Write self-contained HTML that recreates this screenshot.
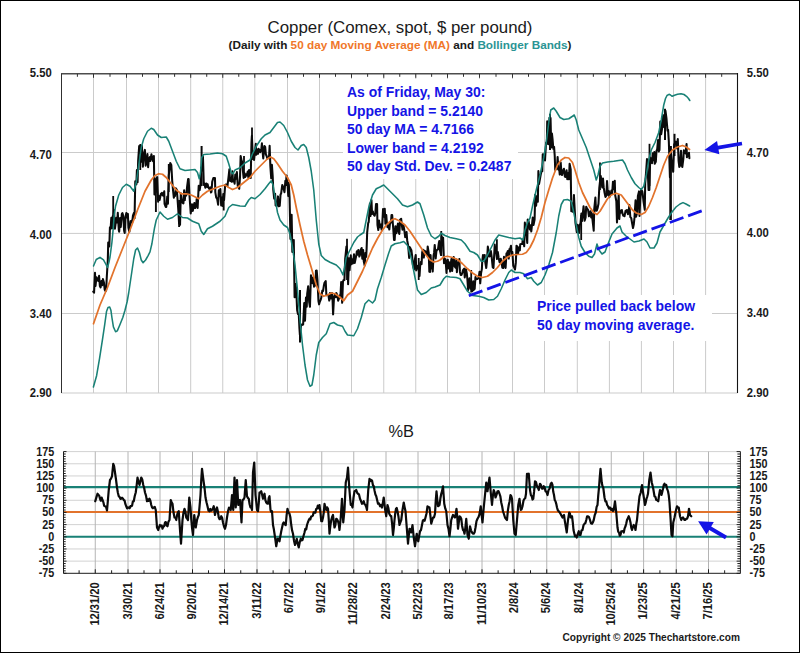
<!DOCTYPE html>
<html><head><meta charset="utf-8"><title>Copper</title>
<style>html,body{margin:0;padding:0;background:#fff}body{width:800px;height:653px;overflow:hidden}</style></head>
<body>
<svg width="800" height="653" viewBox="0 0 800 653" style="display:block;font-family:'Liberation Sans',sans-serif">
<rect x="0" y="0" width="800" height="653" fill="#fff"/>
<path d="M93.50 73.8V393.0 M126.50 73.8V393.0 M158.50 73.8V393.0 M190.70 73.8V393.0 M222.75 73.8V393.0 M254.80 73.8V393.0 M287.50 73.8V393.0 M319.50 73.8V393.0 M351.50 73.8V393.0 M383.75 73.8V393.0 M415.75 73.8V393.0 M447.50 73.8V393.0 M479.50 73.8V393.0 M512.50 73.8V393.0 M544.50 73.8V393.0 M577.30 73.8V393.0 M609.40 73.8V393.0 M641.40 73.8V393.0 M673.50 73.8V393.0 M705.60 73.8V393.0 M61.5 152.5H737.5 M61.5 233.4H737.5 M61.5 313.5H737.5 M61.5 393.0H737.5" stroke="#cbcbcb" stroke-width="1" fill="none"/>
<path d="M93.26 291.65 L94.07 292.76 L94.98 272.84 L95.51 285.91 L96.46 277.19 L97.64 280.35 L98.36 281.03 L99.07 275.79 L99.86 286.01 L100.61 287.46 L101.48 281.10 L102.32 285.20 L102.90 279.00 L103.98 282.85 L104.71 289.74 L105.47 291.00 L106.08 290.79 L106.85 276.00 L107.80 260.30 L108.21 242.56 L109.33 246.57 L109.93 227.29 L110.63 228.78 L111.31 217.83 L112.16 228.23 L112.80 216.00 L113.36 216.00 L114.00 209.96 L114.93 228.68 L115.79 222.36 L116.47 217.76 L117.27 222.46 L117.78 212.86 L118.78 229.93 L119.19 231.73 L120.08 218.03 L120.78 226.86 L121.79 213.98 L122.44 213.00 L123.27 215.95 L124.12 230.63 L124.72 233.00 L125.41 217.62 L126.32 213.00 L126.91 217.57 L127.88 213.88 L128.40 227.53 L129.34 232.00 L130.52 221.12 L131.17 220.90 L132.14 222.72 L132.95 215.64 L133.97 212.83 L134.55 218.12 L135.26 181.40 L136.34 184.41 L136.90 170.00 L137.59 182.27 L138.16 160.51 L139.18 145.95 L139.93 152.79 L140.71 151.84 L141.45 161.84 L141.87 145.78 L142.87 166.69 L143.40 159.11 L144.26 152.45 L144.88 149.90 L145.64 165.77 L146.40 162.63 L147.43 154.00 L148.13 167.15 L148.81 159.38 L149.85 157.05 L150.35 160.98 L151.40 154.30 L152.01 157.57 L153.06 161.24 L153.87 156.02 L154.45 194.49 L155.61 192.32 L156.14 179.08 L157.18 177.09 L158.12 201.75 L158.59 195.68 L159.63 200.05 L160.39 196.28 L160.84 194.01 L161.90 192.84 L162.45 195.04 L163.24 195.67 L164.23 191.37 L164.57 203.92 L165.72 207.00 L166.28 207.00 L167.26 196.51 L167.93 203.82 L168.72 175.59 L169.40 170.57 L170.24 163.08 L171.31 165.05 L172.23 181.00 L173.05 190.51 L173.83 197.67 L174.60 194.14 L174.96 196.09 L175.81 188.35 L176.81 189.89 L177.47 198.26 L178.39 211.32 L179.07 223.21 L180.05 224.79 L180.82 193.32 L181.68 200.38 L182.28 202.43 L183.41 203.39 L184.14 190.31 L184.82 200.10 L185.33 193.59 L186.20 195.62 L187.09 186.87 L188.14 179.00 L188.64 179.00 L189.52 196.00 L190.73 213.43 L191.10 210.28 L192.01 204.26 L192.83 210.87 L193.74 205.68 L194.35 203.02 L195.12 208.04 L196.20 205.19 L196.70 198.91 L197.64 207.88 L198.70 185.68 L199.61 190.22 L200.31 186.29 L201.23 167.64 L202.06 170.50 L202.95 156.41 L203.81 185.08 L204.38 183.19 L205.34 187.78 L206.37 183.54 L207.14 186.88 L207.63 184.27 L208.35 187.39 L209.39 189.00 L210.24 187.36 L211.00 192.49 L211.48 191.83 L212.21 181.81 L213.35 178.00 L213.81 178.00 L214.96 178.00 L215.33 192.36 L216.16 197.43 L217.19 199.00 L218.11 204.68 L218.82 190.27 L219.60 196.21 L220.36 188.94 L221.17 205.52 L221.63 197.22 L222.66 205.96 L223.29 194.04 L224.09 199.94 L225.17 185.26 L225.84 184.44 L226.71 184.56 L227.44 186.15 L228.70 175.62 L229.37 169.33 L230.11 180.88 L230.87 179.40 L231.55 181.79 L232.51 171.23 L232.91 181.36 L234.06 179.58 L234.61 183.61 L235.26 174.59 L236.03 178.78 L236.86 172.09 L237.80 186.41 L238.38 185.69 L239.21 188.86 L240.05 176.42 L240.65 156.00 L241.53 160.44 L242.14 161.48 L242.97 171.40 L243.65 178.00 L244.56 173.14 L245.31 176.88 L246.22 174.32 L246.83 175.50 L247.75 171.54 L248.46 177.80 L249.09 170.01 L249.74 173.95 L250.70 178.00 L251.47 142.96 L251.88 135.88 L252.54 150.74 L253.55 159.28 L254.05 160.00 L254.85 152.70 L255.81 143.77 L256.29 154.78 L257.15 149.61 L258.06 153.83 L258.57 148.87 L259.54 149.99 L260.21 152.25 L261.32 149.38 L261.91 143.23 L262.55 151.41 L263.25 158.46 L264.39 145.99 L265.18 146.87 L265.88 154.42 L266.43 155.52 L267.37 158.37 L267.96 158.38 L269.05 156.85 L269.63 145.74 L270.37 166.24 L271.22 178.31 L271.90 164.80 L272.69 176.10 L273.23 189.31 L274.21 198.53 L275.12 193.80 L275.62 205.52 L276.53 205.80 L277.33 203.65 L277.96 196.40 L278.63 206.33 L279.73 205.81 L280.54 194.52 L281.13 193.40 L282.27 185.00 L282.92 186.49 L283.88 189.82 L284.50 192.27 L285.35 180.82 L285.94 184.89 L286.51 175.42 L287.19 178.13 L288.25 195.91 L288.73 182.92 L289.59 198.16 L290.46 238.87 L291.04 219.88 L291.63 214.87 L292.34 251.96 L292.88 245.94 L293.78 240.00 L294.60 297.32 L295.55 284.07 L296.22 289.51 L297.13 310.00 L297.96 314.15 L298.79 314.48 L299.42 327.85 L299.90 334.92 L300.99 326.04 L301.73 324.50 L302.38 324.90 L303.12 324.65 L304.23 303.14 L305.00 320.74 L305.97 297.50 L306.74 306.78 L307.20 293.79 L308.17 286.24 L309.21 302.39 L309.97 306.73 L310.96 275.16 L311.79 279.57 L312.57 283.28 L313.23 277.54 L314.01 286.65 L314.79 280.49 L315.49 285.40 L315.95 270.73 L316.69 270.57 L317.47 279.86 L318.46 301.11 L319.09 304.34 L319.79 301.78 L320.74 299.63 L321.26 297.81 L322.36 290.41 L323.02 291.05 L323.96 285.18 L324.50 282.83 L325.72 281.00 L326.36 295.16 L326.99 295.00 L327.83 295.00 L328.41 295.00 L329.24 300.55 L329.97 293.00 L330.94 298.48 L331.85 293.00 L332.49 298.19 L333.10 314.35 L333.97 298.05 L334.88 294.12 L335.74 297.32 L336.29 293.00 L337.36 295.13 L338.17 300.67 L339.03 298.46 L339.49 296.81 L340.57 293.94 L341.17 282.13 L342.17 302.83 L342.96 281.70 L343.52 280.00 L344.42 280.00 L345.19 258.97 L346.45 246.43 L347.32 253.93 L348.10 284.17 L349.04 258.17 L349.58 270.11 L350.80 255.22 L351.30 264.29 L352.02 259.19 L352.92 263.50 L354.01 254.39 L354.72 262.95 L355.54 258.94 L356.35 255.09 L356.88 251.22 L357.82 254.61 L358.36 249.92 L359.33 256.52 L360.10 254.69 L360.76 249.65 L361.64 248.00 L362.29 258.73 L363.16 249.99 L363.72 261.04 L364.68 265.57 L365.48 252.74 L366.16 256.83 L366.60 249.12 L367.16 232.68 L368.18 223.22 L368.69 222.00 L369.17 216.00 L369.90 203.54 L370.53 216.06 L371.44 200.00 L372.07 213.87 L372.87 211.49 L373.76 214.57 L374.65 215.78 L375.40 212.38 L376.01 204.00 L377.07 204.00 L377.47 225.18 L378.32 230.00 L379.04 220.60 L379.87 227.25 L380.82 224.46 L381.66 229.76 L382.24 224.28 L383.05 208.93 L384.00 216.75 L384.76 208.89 L385.40 223.83 L386.26 215.12 L386.85 222.76 L387.49 227.22 L388.57 225.38 L389.30 229.54 L389.87 224.29 L391.00 222.05 L391.51 215.00 L392.18 215.00 L393.28 229.07 L394.02 240.00 L394.67 240.00 L395.42 226.20 L396.43 233.14 L397.24 227.21 L397.96 223.59 L398.88 232.57 L399.34 234.00 L400.10 219.76 L401.17 218.74 L401.88 225.26 L402.46 229.66 L403.38 224.96 L404.22 229.49 L405.19 237.16 L405.66 235.41 L406.56 232.00 L407.20 240.41 L408.21 246.00 L409.15 258.00 L409.67 247.11 L410.46 248.37 L411.38 250.14 L412.12 255.97 L412.92 265.06 L414.07 269.53 L414.62 261.02 L415.73 255.00 L416.21 270.36 L417.13 266.49 L417.65 265.73 L418.71 269.59 L419.54 275.98 L420.30 263.30 L420.71 262.00 L421.59 264.17 L422.18 252.27 L422.95 249.71 L423.78 257.57 L424.62 250.65 L425.21 251.24 L426.26 251.93 L427.20 255.21 L427.68 246.47 L428.72 253.02 L429.34 271.61 L430.02 262.50 L430.53 255.00 L431.39 268.39 L432.16 265.71 L432.73 271.55 L433.52 255.66 L434.09 252.67 L434.73 244.94 L435.71 258.37 L436.40 251.42 L437.06 249.92 L438.01 249.35 L438.83 243.22 L439.29 240.95 L440.09 251.08 L441.02 255.00 L441.68 236.19 L442.41 242.14 L443.12 237.71 L444.02 263.19 L444.55 262.36 L445.52 259.15 L446.49 273.00 L447.06 263.32 L447.83 259.72 L448.34 268.35 L449.08 262.32 L450.16 271.52 L450.64 265.48 L451.41 258.98 L452.17 270.96 L452.87 262.55 L453.71 257.08 L454.64 266.31 L455.57 267.66 L456.34 259.62 L456.87 272.17 L457.54 264.90 L458.51 262.37 L459.32 259.00 L459.95 271.89 L460.69 275.00 L461.48 275.00 L462.49 272.27 L463.04 270.07 L464.19 268.51 L464.74 277.47 L465.93 269.23 L466.81 273.49 L467.34 278.70 L468.13 289.96 L468.86 281.32 L469.58 278.23 L470.47 288.73 L471.12 281.78 L472.31 291.18 L473.19 281.20 L473.74 289.94 L474.68 288.85 L475.46 277.01 L476.31 279.33 L477.26 279.12 L477.88 278.46 L478.62 278.16 L479.56 271.75 L480.21 283.34 L481.08 273.16 L481.86 269.08 L482.24 261.35 L482.97 255.00 L484.03 259.14 L484.70 255.01 L485.07 260.84 L486.24 268.00 L486.99 260.54 L487.83 246.57 L488.52 250.83 L489.13 256.50 L490.02 256.02 L490.84 250.91 L491.63 256.54 L492.73 267.31 L493.47 268.00 L493.98 259.00 L494.73 244.59 L495.59 252.33 L496.28 253.22 L497.01 259.00 L497.84 252.04 L498.64 257.94 L499.62 262.35 L500.14 262.40 L500.74 258.78 L501.88 264.17 L502.29 267.51 L503.22 268.00 L503.99 256.76 L504.86 265.47 L505.58 268.00 L506.47 253.47 L507.05 253.26 L507.85 250.95 L508.72 258.58 L509.45 249.01 L510.04 249.44 L510.97 245.70 L511.49 254.73 L512.37 252.00 L513.28 265.81 L514.06 267.17 L514.98 269.54 L515.80 262.88 L516.50 245.66 L517.40 246.95 L518.02 253.85 L518.74 247.44 L519.81 250.35 L520.27 244.18 L521.21 244.00 L522.26 244.00 L522.74 239.54 L523.50 241.56 L524.22 246.32 L524.85 222.63 L525.84 233.01 L526.19 230.62 L527.24 243.00 L527.70 219.56 L528.74 221.79 L529.78 229.36 L530.33 225.16 L531.29 231.51 L531.93 225.46 L532.71 217.49 L533.51 225.00 L534.60 219.56 L535.19 194.76 L536.11 205.77 L536.89 196.39 L537.84 201.82 L538.39 171.11 L539.03 184.18 L539.71 180.24 L540.68 174.78 L541.50 171.48 L542.29 171.32 L542.74 154.17 L543.59 154.52 L544.24 156.30 L545.00 160.37 L546.07 142.60 L546.81 143.95 L547.22 121.29 L547.82 129.51 L548.62 144.24 L549.47 117.82 L549.96 120.76 L550.54 118.01 L551.24 147.48 L551.94 133.62 L552.55 139.20 L553.36 148.80 L554.08 146.93 L554.73 155.79 L555.23 170.06 L556.08 167.60 L556.92 168.60 L557.60 156.94 L558.50 169.73 L559.12 168.31 L559.77 174.53 L560.71 162.50 L561.52 174.33 L562.06 175.00 L562.93 170.81 L563.93 168.77 L564.81 176.27 L565.36 177.04 L566.59 170.23 L567.27 179.17 L568.06 173.36 L568.96 179.32 L569.60 163.77 L570.71 169.42 L571.31 211.33 L572.38 203.87 L573.23 212.07 L573.92 194.93 L574.37 203.16 L575.48 223.20 L576.12 226.99 L576.76 232.16 L577.65 224.79 L578.20 227.16 L579.04 233.02 L579.73 225.35 L580.49 223.08 L581.41 213.42 L581.92 221.08 L582.77 213.88 L583.58 206.22 L584.60 220.82 L585.60 217.36 L586.20 206.71 L586.97 208.20 L588.12 210.00 L588.94 216.31 L589.50 213.79 L590.57 211.23 L591.19 217.49 L591.82 213.34 L593.02 224.41 L593.71 230.75 L594.22 209.46 L595.38 197.62 L596.06 210.78 L596.83 210.48 L597.58 208.18 L598.47 203.72 L599.28 188.17 L600.10 180.70 L600.74 175.92 L601.55 182.52 L602.24 187.46 L602.98 178.44 L603.68 187.13 L604.52 192.52 L605.47 197.00 L606.45 195.36 L607.03 181.14 L607.94 194.77 L608.96 191.13 L609.41 197.21 L610.54 194.65 L611.37 190.59 L612.11 194.08 L612.97 181.67 L613.57 189.32 L614.78 180.75 L615.16 195.00 L616.34 201.31 L616.98 222.52 L617.85 206.93 L618.70 195.00 L619.28 219.07 L619.98 210.36 L620.88 212.58 L621.84 210.00 L622.51 213.53 L623.26 215.78 L623.95 214.45 L624.50 216.23 L625.57 210.82 L626.11 211.77 L626.88 210.00 L627.95 214.21 L628.80 210.31 L629.35 205.00 L630.34 217.09 L631.28 218.21 L632.21 223.90 L633.00 228.00 L633.76 224.57 L634.49 217.64 L635.56 200.20 L636.05 216.76 L637.12 213.01 L637.89 196.03 L639.00 191.41 L639.52 215.97 L640.23 199.57 L641.24 189.83 L642.30 191.32 L642.67 193.58 L643.50 201.28 L644.77 209.78 L645.19 183.38 L646.15 171.41 L646.98 159.13 L647.73 170.32 L648.54 190.00 L649.36 190.00 L650.24 157.47 L651.24 162.13 L652.00 163.23 L652.68 153.33 L653.45 160.24 L654.33 152.00 L654.68 163.73 L655.82 161.69 L656.50 150.72 L657.15 149.53 L658.05 140.00 L658.71 151.50 L659.48 149.96 L660.27 121.59 L661.19 134.32 L662.08 128.69 L662.49 121.43 L663.18 115.20 L664.16 127.07 L664.76 114.99 L665.44 110.65 L666.44 118.11 L667.51 130.63 L668.10 129.82 L668.82 141.26 L669.93 177.27 L670.59 162.75 L671.05 154.19 L671.74 163.02 L672.69 168.83 L673.20 171.80 L674.16 144.47 L675.03 143.01 L675.72 141.66 L676.80 148.25 L677.79 139.07 L678.59 160.95 L679.30 167.00 L679.83 166.24 L680.99 150.85 L681.65 164.52 L682.30 167.00 L683.40 158.35 L683.83 150.25 L684.96 152.19 L685.51 153.35 L686.57 143.99 L686.91 157.33 L687.83 155.08 L688.99 152.74 L689.38 158.28" stroke="#0a0a0a" stroke-width="2.05" fill="none" stroke-linejoin="round" stroke-linecap="round" stroke-linejoin="miter"/>
<path d="M670.6 146V220" stroke="#0a0a0a" stroke-width="2.6" fill="none"/>
<path d="M252 127.5V160" stroke="#0a0a0a" stroke-width="1.8" fill="none"/>
<path d="M168.75 164V192" stroke="#0a0a0a" stroke-width="1.8" fill="none"/>
<path d="M201.6 146V186" stroke="#0a0a0a" stroke-width="2.0" fill="none"/>
<path d="M347 238.8V280" stroke="#0a0a0a" stroke-width="1.8" fill="none"/>
<path d="M441.25 231V256" stroke="#0a0a0a" stroke-width="1.8" fill="none"/>
<path d="M550 113.8V150" stroke="#0a0a0a" stroke-width="2.0" fill="none"/>
<path d="M600 162.5V190" stroke="#0a0a0a" stroke-width="1.8" fill="none"/>
<path d="M649.5 143.8V186" stroke="#0a0a0a" stroke-width="1.8" fill="none"/>
<path d="M665 108.8V140" stroke="#0a0a0a" stroke-width="2.0" fill="none"/>
<path d="M674.5 133.8V156" stroke="#0a0a0a" stroke-width="2.0" fill="none"/>
<path d="M300 290V342.5" stroke="#0a0a0a" stroke-width="2.0" fill="none"/>
<path d="M113.2 196V226" stroke="#0a0a0a" stroke-width="1.8" fill="none"/>
<path d="M140.3 144V170" stroke="#0a0a0a" stroke-width="1.8" fill="none"/>
<path d="M471.2 270V292.5" stroke="#0a0a0a" stroke-width="1.8" fill="none"/>
<path d="M581.2 215V240" stroke="#0a0a0a" stroke-width="1.8" fill="none"/>
<path d="M418.7 258V280" stroke="#0a0a0a" stroke-width="1.8" fill="none"/>
<path d="M179.1 200V227" stroke="#0a0a0a" stroke-width="1.9" fill="none"/>
<path d="M223.7 196V210.5" stroke="#0a0a0a" stroke-width="1.8" fill="none"/>
<path d="M155.9 180V212" stroke="#0a0a0a" stroke-width="1.9" fill="none"/>
<path d="M188 179V195" stroke="#0a0a0a" stroke-width="1.8" fill="none"/>
<path d="M244 156V175" stroke="#0a0a0a" stroke-width="1.8" fill="none"/>
<path d="M430.2 255V272.8" stroke="#0a0a0a" stroke-width="1.8" fill="none"/>
<path d="M496.9 239.3V256" stroke="#0a0a0a" stroke-width="1.8" fill="none"/>
<path d="M93.40 387.00 L96.60 375.70 L99.60 358.20 L102.50 339.30 L104.70 324.70 L106.50 311.60 L108.00 307.50 L109.70 307.00 L110.90 310.20 L111.90 317.50 L113.40 326.90 L115.60 331.70 L117.30 330.90 L119.90 324.70 L122.80 317.50 L125.00 310.20 L127.20 301.50 L128.75 292.50 L131.90 271.25 L133.75 258.75 L135.60 250.00 L137.50 248.00 L139.40 252.50 L141.25 260.00 L143.10 262.75 L145.60 260.00 L148.10 255.60 L150.00 251.90 L151.90 243.75 L153.10 236.25 L154.50 228.00 L156.25 220.00 L160.00 212.00 L163.75 216.25 L167.50 219.25 L172.50 217.50 L177.50 213.75 L182.50 217.50 L187.50 218.00 L192.50 221.25 L198.75 223.75 L201.25 231.25 L203.75 234.50 L207.50 228.75 L212.50 226.25 L220.00 221.25 L225.00 216.25 L228.75 207.50 L232.50 204.50 L240.00 206.00 L245.00 206.25 L248.75 200.00 L251.25 197.50 L255.00 198.75 L260.00 194.50 L265.00 188.75 L268.75 183.75 L271.25 180.75 L273.00 185.00 L275.00 197.50 L277.50 212.50 L280.00 220.00 L283.75 225.00 L287.50 227.50 L290.00 234.00 L292.50 247.50 L295.00 265.00 L297.50 290.00 L300.00 320.00 L302.50 345.00 L305.00 365.00 L307.50 380.00 L310.00 386.25 L312.00 385.00 L313.75 375.00 L316.25 355.00 L318.75 342.50 L322.50 337.50 L326.25 333.75 L330.00 323.75 L333.75 322.50 L337.50 325.00 L342.50 326.25 L345.00 331.25 L347.50 335.00 L353.75 335.75 L357.50 328.75 L361.25 317.50 L365.00 303.75 L368.75 300.00 L372.50 303.00 L375.00 300.00 L377.50 288.75 L381.25 277.50 L385.00 265.00 L388.75 253.00 L391.25 246.00 L395.00 243.75 L400.00 242.70 L403.75 241.50 L407.50 245.50 L411.25 258.00 L415.00 277.50 L417.50 290.00 L421.25 294.50 L426.25 292.50 L431.25 288.00 L435.00 287.00 L440.00 285.00 L443.75 278.75 L446.25 276.25 L450.00 277.00 L456.25 277.50 L460.00 278.75 L463.75 285.00 L467.50 291.25 L472.50 295.50 L478.75 296.25 L483.75 297.50 L488.75 300.00 L493.75 299.50 L497.50 296.25 L501.25 288.75 L505.00 280.00 L508.75 272.50 L511.25 270.00 L515.00 272.50 L520.00 272.50 L523.75 273.75 L527.50 278.75 L531.25 277.50 L533.75 281.25 L537.50 285.00 L541.25 282.50 L545.00 275.00 L548.75 265.00 L552.50 252.50 L556.25 232.50 L558.75 216.00 L561.25 204.50 L563.75 200.00 L567.50 199.50 L571.25 201.25 L573.75 212.50 L576.25 225.00 L578.75 237.50 L581.25 246.25 L585.00 252.50 L588.75 256.25 L592.00 257.50 L594.50 254.00 L597.00 244.00 L599.00 250.00 L602.00 254.00 L605.00 252.00 L608.00 244.00 L612.00 234.00 L617.00 228.00 L620.00 226.00 L622.00 232.00 L626.00 236.00 L630.00 239.00 L634.00 242.00 L639.00 241.00 L644.00 239.00 L647.00 242.00 L650.00 248.00 L654.00 248.00 L657.00 243.00 L660.00 232.00 L664.00 225.00 L668.00 218.00 L672.00 212.00 L676.00 207.00 L680.00 204.00 L683.00 202.60 L686.00 204.00 L689.60 206.00" stroke="#198176" stroke-width="1.55" fill="none" stroke-linejoin="round" stroke-linecap="round" />
<path d="M93.50 266.00 L96.25 259.50 L100.00 257.30 L103.50 259.80 L105.75 264.00 L107.50 267.50 L109.00 262.00 L110.00 257.00 L111.90 242.50 L113.10 230.00 L114.20 215.00 L115.60 206.00 L118.75 195.00 L122.50 187.50 L126.25 184.25 L130.00 186.25 L133.75 191.25 L136.25 182.50 L138.75 165.00 L141.25 147.50 L143.75 138.75 L147.50 131.25 L151.25 128.25 L153.75 129.50 L157.50 135.00 L161.25 137.50 L166.25 137.00 L168.75 141.25 L172.50 151.25 L176.25 161.25 L180.00 168.75 L185.00 170.50 L190.00 170.00 L195.00 169.50 L197.50 172.50 L199.25 178.75 L200.50 172.50 L201.75 157.50 L203.75 154.50 L210.00 154.00 L217.50 153.00 L222.50 153.75 L226.25 156.25 L228.75 163.75 L231.25 172.50 L233.00 173.75 L235.00 170.00 L240.00 167.80 L245.00 163.00 L250.00 160.00 L252.50 153.75 L256.25 146.25 L261.25 138.75 L265.00 135.00 L270.00 132.50 L273.75 127.50 L277.50 122.50 L280.00 122.00 L283.75 125.50 L287.50 132.50 L291.25 141.25 L295.00 147.50 L298.00 150.00 L301.25 145.50 L303.75 144.50 L306.25 147.50 L308.75 157.50 L311.25 171.25 L313.75 190.00 L316.25 220.00 L318.75 244.00 L321.25 255.50 L325.00 259.50 L330.00 262.20 L336.25 265.00 L340.00 268.75 L343.00 275.00 L344.50 267.50 L346.25 257.50 L350.00 250.00 L353.75 242.50 L357.50 237.00 L360.00 235.00 L363.75 232.50 L366.25 220.00 L368.75 207.50 L372.50 195.00 L376.25 188.75 L380.00 187.00 L383.75 185.00 L387.50 188.75 L392.50 193.75 L397.50 198.75 L402.50 205.00 L407.50 206.75 L412.50 205.00 L417.50 202.00 L420.00 203.75 L423.75 215.00 L427.50 228.00 L431.25 236.00 L435.00 238.75 L438.75 236.25 L441.25 233.25 L445.00 235.50 L450.00 237.50 L456.25 238.75 L461.25 240.00 L465.00 243.75 L470.00 251.25 L473.75 252.50 L477.50 255.00 L481.25 261.25 L483.75 261.25 L487.50 255.00 L491.25 247.50 L495.00 240.00 L498.75 235.00 L503.75 236.25 L508.75 237.50 L515.00 238.75 L520.00 238.00 L523.00 240.00 L525.00 230.00 L527.50 222.50 L530.00 218.00 L532.50 206.25 L536.25 190.00 L540.00 175.00 L543.75 157.50 L546.25 142.50 L548.75 122.50 L550.75 110.00 L553.75 108.00 L556.25 111.25 L560.00 117.50 L563.75 119.50 L568.75 118.75 L572.50 116.25 L574.25 115.00 L576.25 120.00 L578.75 130.00 L582.50 138.75 L586.25 147.50 L590.00 158.75 L593.75 170.00 L596.25 180.00 L598.00 175.00 L600.00 166.25 L602.50 163.00 L607.50 162.00 L613.75 161.25 L618.75 160.50 L622.50 160.00 L625.00 163.75 L627.50 170.00 L631.25 177.50 L635.00 183.75 L638.75 187.50 L641.25 189.50 L643.75 186.25 L646.25 175.00 L648.75 160.00 L651.25 150.00 L655.00 142.50 L658.75 132.50 L661.25 120.00 L663.75 105.00 L665.50 98.50 L667.00 95.50 L669.00 94.30 L670.50 95.00 L672.20 96.30 L674.50 95.20 L677.50 94.20 L681.00 93.80 L684.00 94.50 L686.50 96.30 L688.50 98.50 L689.80 100.50" stroke="#198176" stroke-width="1.55" fill="none" stroke-linejoin="round" stroke-linecap="round" />
<path d="M93.50 323.75 L100.00 305.00 L107.50 287.50 L115.00 267.50 L122.50 248.75 L130.00 230.00 L137.50 210.00 L145.00 191.25 L151.25 180.00 L155.00 175.50 L158.75 173.75 L162.50 174.25 L166.25 177.50 L171.25 183.75 L176.25 190.00 L181.25 193.75 L186.25 193.75 L191.25 195.00 L196.25 197.50 L198.75 198.75 L202.50 195.00 L207.50 191.25 L213.75 188.75 L220.00 186.25 L225.00 185.00 L228.75 187.50 L232.50 189.50 L237.50 187.50 L243.75 182.50 L250.00 177.50 L255.00 171.25 L262.50 163.75 L267.50 158.75 L270.50 157.00 L273.75 158.75 L277.50 163.75 L282.50 171.25 L287.50 177.50 L291.25 185.00 L293.75 195.00 L296.25 207.50 L300.00 225.00 L303.75 241.25 L307.50 255.00 L311.25 267.50 L316.25 285.00 L320.00 293.75 L323.75 296.25 L327.50 295.00 L331.25 293.00 L335.00 293.75 L338.75 296.25 L343.75 300.75 L347.50 295.00 L352.50 291.25 L357.50 281.25 L362.50 271.25 L367.50 259.50 L372.50 248.00 L377.50 238.50 L382.50 230.00 L387.50 223.75 L392.50 219.50 L395.00 218.75 L400.00 221.25 L405.00 225.00 L410.00 231.25 L415.00 238.75 L420.00 246.25 L425.00 253.75 L430.00 260.00 L433.75 262.00 L437.50 261.25 L440.00 260.00 L443.75 257.00 L447.50 256.25 L452.50 257.50 L457.50 259.50 L462.50 263.75 L467.50 268.75 L472.50 273.00 L477.50 276.25 L482.50 277.50 L487.50 276.25 L492.50 272.50 L497.50 267.50 L502.50 261.25 L507.50 257.00 L512.50 255.00 L517.50 254.50 L522.50 254.25 L526.25 252.50 L530.00 247.50 L533.75 240.00 L537.50 230.00 L541.25 217.50 L545.00 202.50 L548.75 190.00 L552.50 178.00 L557.50 165.00 L561.25 160.00 L565.00 157.50 L568.75 158.00 L572.50 162.50 L575.00 170.00 L578.75 182.50 L582.50 192.50 L586.25 200.00 L590.00 207.50 L593.75 212.50 L597.00 214.50 L600.00 211.25 L603.75 205.00 L607.50 198.75 L611.25 195.00 L616.25 193.25 L621.25 195.00 L625.00 200.00 L628.75 205.00 L632.50 210.00 L636.25 213.00 L641.25 214.50 L645.00 212.50 L648.75 206.25 L652.50 197.50 L656.25 187.50 L660.00 176.25 L663.75 165.00 L667.50 156.25 L672.50 150.00 L677.50 147.00 L682.50 145.50 L686.25 147.00 L689.50 149.50" stroke="#e2732c" stroke-width="1.75" fill="none" stroke-linejoin="round" stroke-linecap="round" />
<path d="M468.8 295.8L702.2 210.7" stroke="#1414e6" stroke-width="2.8" stroke-dasharray="14.5 4.95" fill="none"/>
<rect x="343" y="79" width="175" height="100" fill="#fff"/>
<rect x="530" y="295" width="182" height="46" fill="#fff"/>
<path d="M61.0 73.8H738.0" stroke="#4c4c4c" stroke-width="1.5" fill="none"/>
<path d="M737.5 73.1V393.0" stroke="#141414" stroke-width="1.1" fill="none"/>
<path d="M61.5 393.0V73.8 M77.40 73.8v3 M93.50 73.8v4 M110.00 73.8v3 M126.50 73.8v4 M142.50 73.8v3 M158.50 73.8v4 M174.60 73.8v3 M190.70 73.8v4 M206.72 73.8v3 M222.75 73.8v4 M238.78 73.8v3 M254.80 73.8v4 M271.15 73.8v3 M287.50 73.8v4 M303.50 73.8v3 M319.50 73.8v4 M335.50 73.8v3 M351.50 73.8v4 M367.62 73.8v3 M383.75 73.8v4 M399.75 73.8v3 M415.75 73.8v4 M431.62 73.8v3 M447.50 73.8v4 M463.50 73.8v3 M479.50 73.8v4 M496.00 73.8v3 M512.50 73.8v4 M528.50 73.8v3 M544.50 73.8v4 M560.90 73.8v3 M577.30 73.8v4 M593.35 73.8v3 M609.40 73.8v4 M625.40 73.8v3 M641.40 73.8v4 M657.45 73.8v3 M673.50 73.8v4 M689.55 73.8v3 M705.60 73.8v4 M721.70 73.8v3" stroke="#303030" stroke-width="1" fill="none"/>
<g font-weight="bold" font-size="13.95px" fill="#1414e6">
<text x="347" y="97.0">As of Friday, May 30:</text>
<text x="347" y="115.5">Upper band = 5.2140</text>
<text x="347" y="134.0">50 day MA = 4.7166</text>
<text x="347" y="152.5">Lower band = 4.2192</text>
<text x="347" y="171.0">50 day Std. Dev. = 0.2487</text>
<text x="537" y="310.5">Price pulled back below</text>
<text x="537" y="329.5">50 day moving average.</text>
</g>
<polygon points="704.40,150.00 719.35,154.32 718.50,149.39 742.31,145.27 741.69,141.73 717.89,145.84 717.04,140.91" fill="#1414e6"/>
<g font-weight="bold" font-size="12.4px" fill="#1a1a1a">
<text transform="translate(51.8 77.0) scale(0.91 1)" text-anchor="end">5.50</text>
<text transform="translate(746.8 77.2) scale(0.91 1)">5.50</text>
<text transform="translate(51.8 159.0) scale(0.91 1)" text-anchor="end">4.70</text>
<text transform="translate(746.8 156.8) scale(0.91 1)">4.70</text>
<text transform="translate(51.8 238.8) scale(0.91 1)" text-anchor="end">4.00</text>
<text transform="translate(746.8 236.8) scale(0.91 1)">4.00</text>
<text transform="translate(51.8 317.8) scale(0.91 1)" text-anchor="end">3.40</text>
<text transform="translate(746.8 317.4) scale(0.91 1)">3.40</text>
<text transform="translate(51.8 397.3) scale(0.91 1)" text-anchor="end">2.90</text>
<text transform="translate(746.8 397.1) scale(0.91 1)">2.90</text>
</g>
<text x="400" y="33.1" font-size="16.85px" text-anchor="middle" fill="#1a1a1a">Copper (Comex, spot, $ per pound)</text>
<text x="400" y="49.1" font-size="11.77px" font-weight="bold" text-anchor="middle" fill="#1a1a1a">(Daily with <tspan fill="#f0772a">50 day Moving Average (MA)</tspan> and <tspan fill="#2a9494">Bollinger Bands</tspan>)</text>
<text x="401.3" y="436.8" font-size="16.4px" text-anchor="middle" fill="#1a1a1a">%B</text>
<path d="M63.5 451.60H740.4 M63.5 463.77H740.4 M63.5 475.94H740.4 M63.5 500.28H740.4 M63.5 524.62H740.4 M63.5 548.96H740.4 M63.5 561.13H740.4" stroke="#d2d2d2" stroke-width="1" fill="none"/>
<path d="M95.25 451.6V573.3 M128.00 451.6V573.3 M160.00 451.6V573.3 M192.50 451.6V573.3 M224.50 451.6V573.3 M257.00 451.6V573.3 M289.25 451.6V573.3 M321.75 451.6V573.3 M353.75 451.6V573.3 M386.00 451.6V573.3 M418.00 451.6V573.3 M449.50 451.6V573.3 M482.00 451.6V573.3 M514.25 451.6V573.3 M546.75 451.6V573.3 M579.00 451.6V573.3 M611.25 451.6V573.3 M643.60 451.6V573.3 M676.25 451.6V573.3 M708.50 451.6V573.3" stroke="#b4b4b4" stroke-width="1" fill="none"/>
<path d="M63.5 487.1H740.9M63.5 536.8H740.9" stroke="#198176" stroke-width="2.1" fill="none"/>
<path d="M63.5 512.1H740.9" stroke="#e2732c" stroke-width="2" fill="none"/>
<path d="M95.25 501.25 L96.38 497.34 L97.50 493.75 L98.33 494.88 L99.17 495.57 L100.00 498.75 L100.83 500.71 L101.67 497.51 L102.50 500.00 L103.33 502.10 L104.17 505.84 L105.00 506.25 L106.00 506.61 L107.00 510.50 L107.88 500.48 L108.75 490.00 L110.00 480.00 L111.00 478.61 L112.00 476.25 L113.25 463.75 L114.12 466.20 L115.00 472.50 L116.00 479.49 L117.00 487.50 L117.88 492.73 L118.75 496.25 L119.58 496.88 L120.42 498.86 L121.25 498.75 L122.08 497.73 L122.92 498.48 L123.75 500.00 L124.58 500.45 L125.42 504.19 L126.25 506.25 L127.08 508.45 L127.92 507.46 L128.75 507.50 L129.58 508.24 L130.42 506.18 L131.25 506.25 L132.08 505.62 L132.92 501.24 L133.75 501.25 L134.75 496.00 L135.75 492.50 L136.62 485.73 L137.50 477.50 L138.50 482.20 L139.50 485.00 L140.38 480.92 L141.25 477.50 L142.25 479.52 L143.25 485.00 L144.12 487.77 L145.00 492.50 L146.00 495.66 L147.00 501.25 L147.83 499.50 L148.67 500.88 L149.50 498.75 L150.38 500.61 L151.25 505.00 L152.08 507.46 L152.92 508.26 L153.75 507.50 L154.75 506.88 L155.75 510.00 L157.00 527.50 L158.25 530.00 L159.12 526.99 L160.00 525.00 L160.83 526.22 L161.67 525.50 L162.50 528.75 L163.33 526.35 L164.17 526.29 L165.00 522.50 L165.83 522.12 L166.67 525.41 L167.50 526.25 L168.50 521.53 L169.50 520.00 L170.75 500.00 L171.62 502.21 L172.50 503.75 L173.50 512.29 L174.50 517.50 L175.38 517.50 L176.25 520.00 L177.08 515.02 L177.92 512.42 L178.75 511.25 L180.00 530.00 L181.00 543.75 L181.75 532.04 L182.50 520.00 L183.50 512.35 L184.50 508.75 L185.38 511.38 L186.25 517.50 L187.12 518.74 L188.00 520.00 L189.25 497.50 L190.50 507.50 L191.25 519.27 L192.00 527.50 L193.00 535.00 L194.25 515.00 L195.00 520.91 L195.75 527.50 L197.00 520.00 L197.88 517.07 L198.75 515.00 L199.62 505.58 L200.50 495.00 L201.25 480.17 L202.00 468.75 L202.88 475.96 L203.75 482.50 L204.62 488.62 L205.50 497.50 L206.50 502.33 L207.50 506.25 L208.50 510.67 L209.50 511.25 L210.33 508.96 L211.17 510.65 L212.00 510.00 L212.88 508.57 L213.75 506.25 L215.00 515.00 L216.00 509.78 L217.00 507.50 L217.88 511.53 L218.75 517.50 L219.58 519.16 L220.42 518.76 L221.25 516.25 L222.12 517.78 L223.00 522.50 L224.00 526.49 L225.00 528.75 L226.00 525.02 L227.00 517.50 L228.00 511.39 L229.00 507.50 L229.88 509.22 L230.75 510.00 L232.00 495.00 L233.25 510.00 L234.50 477.50 L235.75 507.50 L237.00 480.00 L238.25 505.00 L239.12 500.58 L240.00 500.00 L240.75 510.69 L241.50 522.50 L242.50 500.00 L243.50 499.48 L244.50 497.50 L245.75 480.00 L247.00 496.25 L247.88 497.88 L248.75 498.75 L249.62 504.28 L250.50 507.50 L251.25 507.01 L252.00 510.00 L253.00 472.50 L254.25 462.50 L255.50 495.00 L256.25 501.86 L257.00 510.00 L258.00 511.25 L258.75 503.40 L259.50 492.50 L260.38 492.23 L261.25 491.25 L262.12 494.80 L263.00 498.75 L263.75 495.84 L264.50 493.75 L265.38 500.17 L266.25 502.50 L267.12 503.44 L268.00 503.75 L268.75 497.98 L269.50 496.25 L270.50 510.00 L271.25 511.88 L272.00 511.25 L273.00 525.00 L273.75 528.66 L274.50 533.75 L275.38 539.72 L276.25 546.25 L277.50 538.75 L278.50 538.80 L279.50 541.25 L280.38 536.01 L281.25 531.25 L282.08 527.60 L282.92 523.69 L283.75 522.50 L284.75 524.29 L285.75 525.00 L286.62 515.21 L287.50 508.75 L288.50 512.44 L289.50 513.75 L290.38 517.38 L291.25 525.00 L292.12 530.55 L293.00 533.75 L294.00 540.67 L295.00 545.00 L295.88 541.86 L296.75 538.75 L297.75 544.00 L298.75 547.50 L299.75 542.07 L300.75 538.75 L301.62 540.37 L302.50 540.00 L303.50 535.94 L304.50 532.50 L305.33 528.87 L306.17 529.45 L307.00 525.00 L307.83 522.50 L308.67 520.30 L309.50 518.75 L310.33 519.43 L311.17 516.53 L312.00 516.25 L312.83 515.70 L313.67 512.37 L314.50 512.50 L315.33 512.69 L316.17 508.99 L317.00 508.75 L317.83 505.61 L318.67 508.25 L319.50 505.00 L320.38 511.75 L321.25 521.25 L322.12 521.25 L323.00 517.50 L323.75 512.67 L324.50 503.75 L325.38 507.32 L326.25 510.00 L327.12 507.32 L328.00 508.75 L328.75 519.41 L329.50 533.75 L330.38 525.65 L331.25 520.00 L332.12 517.03 L333.00 515.00 L333.75 521.72 L334.50 527.50 L335.38 525.08 L336.25 518.75 L337.12 519.39 L338.00 521.25 L338.75 524.12 L339.50 530.00 L340.75 517.50 L342.00 498.75 L343.25 522.50 L344.50 510.00 L345.75 482.50 L347.00 477.50 L348.00 467.50 L349.25 487.50 L350.00 496.51 L350.75 505.00 L351.62 504.73 L352.50 507.50 L353.50 497.64 L354.50 491.25 L355.38 490.86 L356.25 490.00 L357.12 492.70 L358.00 493.75 L359.00 494.43 L360.00 498.75 L361.00 501.05 L362.00 503.75 L362.88 503.36 L363.75 501.25 L364.62 504.23 L365.50 505.00 L366.25 507.01 L367.00 510.00 L368.25 490.00 L369.50 478.75 L370.38 481.00 L371.25 480.00 L372.08 480.69 L372.92 485.07 L373.75 486.25 L374.58 490.72 L375.42 494.51 L376.25 496.25 L377.12 499.98 L378.00 503.75 L379.00 503.32 L380.00 506.25 L381.00 504.98 L382.00 507.50 L382.88 502.62 L383.75 497.50 L385.00 508.75 L386.25 516.25 L387.50 505.00 L388.38 508.00 L389.25 513.75 L390.25 515.54 L391.25 516.25 L392.12 523.88 L393.00 535.00 L393.75 528.68 L394.50 520.00 L395.25 513.21 L396.00 508.75 L396.75 507.95 L397.50 511.25 L398.50 516.76 L399.50 525.00 L400.38 522.32 L401.25 520.00 L402.50 510.00 L403.75 502.50 L404.62 507.12 L405.50 511.25 L406.75 527.50 L408.00 543.75 L408.75 535.78 L409.50 528.75 L410.38 529.25 L411.25 532.50 L412.50 525.00 L413.75 537.50 L415.00 546.25 L415.88 539.92 L416.75 533.75 L417.50 539.38 L418.25 541.25 L419.12 536.40 L420.00 531.25 L421.00 529.98 L422.00 525.00 L422.88 520.52 L423.75 520.00 L424.62 520.82 L425.50 517.50 L426.50 513.51 L427.50 506.25 L428.50 507.06 L429.50 507.50 L430.38 515.72 L431.25 523.75 L432.12 520.78 L433.00 517.50 L434.00 517.35 L435.00 513.75 L435.75 500.68 L436.50 491.25 L437.25 499.35 L438.00 506.25 L438.75 505.80 L439.50 505.00 L440.38 498.54 L441.25 493.75 L442.12 490.94 L443.00 486.25 L444.25 503.75 L445.25 508.43 L446.25 511.25 L447.50 525.00 L448.50 528.96 L449.50 536.25 L450.38 528.96 L451.25 520.00 L452.12 517.30 L453.00 515.00 L454.00 516.21 L455.00 517.50 L455.75 513.70 L456.50 508.75 L457.25 516.87 L458.00 528.75 L458.75 522.93 L459.50 516.25 L460.38 516.97 L461.25 518.75 L462.12 525.97 L463.00 530.00 L463.75 530.75 L464.50 533.75 L465.38 527.61 L466.25 518.75 L467.50 535.00 L468.75 538.75 L470.00 526.25 L471.00 530.34 L472.00 532.50 L472.88 533.65 L473.75 533.75 L474.62 532.20 L475.50 527.50 L476.50 521.18 L477.50 518.75 L478.38 517.28 L479.25 515.00 L480.00 511.10 L480.75 506.25 L481.62 515.12 L482.50 522.50 L483.75 507.50 L485.00 495.00 L486.25 482.50 L487.50 491.25 L488.50 483.98 L489.50 477.50 L490.75 492.50 L492.00 505.00 L492.88 495.69 L493.75 490.00 L494.62 492.44 L495.50 497.50 L496.50 494.83 L497.50 491.25 L498.50 491.16 L499.50 493.75 L500.38 496.30 L501.25 502.50 L502.12 506.27 L503.00 511.25 L504.00 514.25 L505.00 517.50 L506.00 518.90 L507.00 520.00 L507.88 510.51 L508.75 505.00 L509.62 501.16 L510.50 495.00 L511.25 496.18 L512.00 498.75 L513.25 520.00 L514.50 533.75 L515.75 535.00 L517.00 520.00 L518.25 505.00 L519.50 498.75 L520.75 510.00 L521.62 509.31 L522.50 506.25 L523.50 500.44 L524.50 498.75 L525.25 498.16 L526.00 493.75 L527.00 473.75 L527.88 474.13 L528.75 473.75 L530.00 490.00 L530.88 495.13 L531.75 496.25 L532.50 499.54 L533.25 498.75 L534.12 491.40 L535.00 481.25 L536.00 482.10 L537.00 486.25 L537.88 487.49 L538.75 490.00 L540.00 483.75 L541.00 485.12 L542.00 488.75 L542.88 488.68 L543.75 486.25 L544.62 487.46 L545.50 491.25 L546.50 491.95 L547.50 495.00 L548.50 490.24 L549.50 488.75 L550.75 483.75 L551.62 482.78 L552.50 485.00 L553.25 491.84 L554.00 495.00 L554.75 500.13 L555.50 501.25 L556.25 503.84 L557.00 507.50 L557.88 510.39 L558.75 511.25 L559.62 512.36 L560.50 513.75 L561.50 515.72 L562.50 517.50 L563.25 515.70 L564.00 515.00 L564.75 520.57 L565.50 525.00 L566.75 532.50 L568.00 520.00 L569.25 512.50 L570.00 513.89 L570.75 517.50 L572.00 516.25 L572.75 522.10 L573.50 530.00 L574.25 533.20 L575.00 536.25 L575.88 535.60 L576.75 537.50 L577.75 534.12 L578.75 531.25 L579.62 534.99 L580.50 535.00 L581.50 530.49 L582.50 530.00 L583.50 525.21 L584.50 523.75 L585.38 523.13 L586.25 520.00 L587.12 516.27 L588.00 516.25 L589.00 517.08 L590.00 520.00 L591.00 523.35 L592.00 523.75 L592.88 522.32 L593.75 520.00 L594.75 515.08 L595.75 512.50 L596.62 506.90 L597.50 505.00 L598.25 495.31 L599.00 487.50 L599.75 477.29 L600.50 468.75 L601.75 482.50 L602.50 486.26 L603.25 487.50 L604.50 497.50 L605.38 501.37 L606.25 501.25 L607.12 504.95 L608.00 506.25 L609.00 508.56 L610.00 507.50 L611.00 509.93 L612.00 508.75 L612.88 510.96 L613.75 510.00 L615.00 501.25 L616.25 512.50 L617.50 527.50 L618.25 531.76 L619.00 532.50 L619.75 535.71 L620.50 535.00 L621.25 531.42 L622.00 531.25 L622.88 531.11 L623.75 532.50 L624.62 528.31 L625.50 526.25 L626.25 523.56 L627.00 520.00 L627.88 518.09 L628.75 516.25 L629.62 518.73 L630.50 522.50 L631.25 527.67 L632.00 530.00 L632.88 527.08 L633.75 525.00 L634.62 526.28 L635.50 530.00 L636.25 524.06 L637.00 520.00 L638.25 507.50 L639.50 496.25 L640.75 492.50 L642.00 485.00 L643.25 493.75 L644.12 499.21 L645.00 505.00 L645.75 502.34 L646.50 498.75 L647.25 496.54 L648.00 493.75 L649.25 480.00 L650.50 472.50 L651.75 482.50 L652.50 485.37 L653.25 488.75 L654.50 496.25 L655.38 496.81 L656.25 500.00 L657.25 500.21 L658.25 501.25 L659.12 494.89 L660.00 490.00 L660.75 491.12 L661.50 495.00 L662.25 492.06 L663.00 488.75 L663.75 484.94 L664.50 483.75 L665.38 485.26 L666.25 485.00 L667.12 488.79 L668.00 491.25 L668.75 495.35 L669.50 502.50 L670.50 517.50 L671.50 535.00 L672.50 536.25 L673.25 522.50 L674.50 517.50 L675.75 511.25 L677.00 506.25 L677.88 507.40 L678.75 507.50 L680.00 516.25 L681.25 520.00 L682.12 518.07 L683.00 517.50 L683.75 518.53 L684.50 520.00 L685.38 519.82 L686.25 518.75 L687.12 518.60 L688.00 516.25 L689.00 508.75 L690.00 515.00 L691.25 516.25" stroke="#0a0a0a" stroke-width="2.2" fill="none" stroke-linejoin="round" stroke-linecap="round" stroke-linejoin="miter"/>
<path d="M63.5 451.6V573.3H740.4V451.6 M63.5 573.30h3 M740.4 573.30h-3.8 M63.5 570.87h2.2 M740.4 570.87h-3.0 M63.5 568.43h2.2 M740.4 568.43h-3.0 M63.5 566.00h2.2 M740.4 566.00h-3.0 M63.5 563.56h2.2 M740.4 563.56h-3.0 M63.5 561.13h3 M740.4 561.13h-3.8 M63.5 558.70h2.2 M740.4 558.70h-3.0 M63.5 556.26h2.2 M740.4 556.26h-3.0 M63.5 553.83h2.2 M740.4 553.83h-3.0 M63.5 551.39h2.2 M740.4 551.39h-3.0 M63.5 548.96h3 M740.4 548.96h-3.8 M63.5 546.53h2.2 M740.4 546.53h-3.0 M63.5 544.09h2.2 M740.4 544.09h-3.0 M63.5 541.66h2.2 M740.4 541.66h-3.0 M63.5 539.22h2.2 M740.4 539.22h-3.0 M63.5 536.79h3 M740.4 536.79h-3.8 M63.5 534.36h2.2 M740.4 534.36h-3.0 M63.5 531.92h2.2 M740.4 531.92h-3.0 M63.5 529.49h2.2 M740.4 529.49h-3.0 M63.5 527.05h2.2 M740.4 527.05h-3.0 M63.5 524.62h3 M740.4 524.62h-3.8 M63.5 522.19h2.2 M740.4 522.19h-3.0 M63.5 519.75h2.2 M740.4 519.75h-3.0 M63.5 517.32h2.2 M740.4 517.32h-3.0 M63.5 514.88h2.2 M740.4 514.88h-3.0 M63.5 512.45h3 M740.4 512.45h-3.8 M63.5 510.02h2.2 M740.4 510.02h-3.0 M63.5 507.58h2.2 M740.4 507.58h-3.0 M63.5 505.15h2.2 M740.4 505.15h-3.0 M63.5 502.71h2.2 M740.4 502.71h-3.0 M63.5 500.28h3 M740.4 500.28h-3.8 M63.5 497.85h2.2 M740.4 497.85h-3.0 M63.5 495.41h2.2 M740.4 495.41h-3.0 M63.5 492.98h2.2 M740.4 492.98h-3.0 M63.5 490.54h2.2 M740.4 490.54h-3.0 M63.5 488.11h3 M740.4 488.11h-3.8 M63.5 485.68h2.2 M740.4 485.68h-3.0 M63.5 483.24h2.2 M740.4 483.24h-3.0 M63.5 480.81h2.2 M740.4 480.81h-3.0 M63.5 478.37h2.2 M740.4 478.37h-3.0 M63.5 475.94h3 M740.4 475.94h-3.8 M63.5 473.51h2.2 M740.4 473.51h-3.0 M63.5 471.07h2.2 M740.4 471.07h-3.0 M63.5 468.64h2.2 M740.4 468.64h-3.0 M63.5 466.20h2.2 M740.4 466.20h-3.0 M63.5 463.77h3 M740.4 463.77h-3.8 M63.5 461.34h2.2 M740.4 461.34h-3.0 M63.5 458.90h2.2 M740.4 458.90h-3.0 M63.5 456.47h2.2 M740.4 456.47h-3.0 M63.5 454.03h2.2 M740.4 454.03h-3.0 M63.5 451.60h3 M740.4 451.60h-3.8 M79.10 573.3v-3 M95.25 573.3v-4 M111.62 573.3v-3 M128.00 573.3v-4 M144.00 573.3v-3 M160.00 573.3v-4 M176.25 573.3v-3 M192.50 573.3v-4 M208.50 573.3v-3 M224.50 573.3v-4 M240.75 573.3v-3 M257.00 573.3v-4 M273.12 573.3v-3 M289.25 573.3v-4 M305.50 573.3v-3 M321.75 573.3v-4 M337.75 573.3v-3 M353.75 573.3v-4 M369.88 573.3v-3 M386.00 573.3v-4 M402.00 573.3v-3 M418.00 573.3v-4 M433.75 573.3v-3 M449.50 573.3v-4 M465.75 573.3v-3 M482.00 573.3v-4 M498.12 573.3v-3 M514.25 573.3v-4 M530.50 573.3v-3 M546.75 573.3v-4 M562.88 573.3v-3 M579.00 573.3v-4 M595.12 573.3v-3 M611.25 573.3v-4 M627.42 573.3v-3 M643.60 573.3v-4 M659.92 573.3v-3 M676.25 573.3v-4 M692.38 573.3v-3 M708.50 573.3v-4 M724.65 573.3v-3" stroke="#1c1c1c" stroke-width="1" fill="none"/>
<g font-weight="bold" font-size="12px" fill="#1a1a1a">
<text transform="translate(54.3 455.5) scale(0.9 1)" text-anchor="end">175</text>
<text transform="translate(749.5 455.5) scale(0.9 1)">175</text>
<text transform="translate(54.3 467.7) scale(0.9 1)" text-anchor="end">150</text>
<text transform="translate(749.5 467.7) scale(0.9 1)">150</text>
<text transform="translate(54.3 479.8) scale(0.9 1)" text-anchor="end">125</text>
<text transform="translate(749.5 479.8) scale(0.9 1)">125</text>
<text transform="translate(54.3 492.0) scale(0.9 1)" text-anchor="end">100</text>
<text transform="translate(749.5 492.0) scale(0.9 1)">100</text>
<text transform="translate(54.3 504.2) scale(0.9 1)" text-anchor="end">75</text>
<text transform="translate(749.5 504.2) scale(0.9 1)">75</text>
<text transform="translate(54.3 516.4) scale(0.9 1)" text-anchor="end">50</text>
<text transform="translate(749.5 516.4) scale(0.9 1)">50</text>
<text transform="translate(54.3 528.5) scale(0.9 1)" text-anchor="end">25</text>
<text transform="translate(749.5 528.5) scale(0.9 1)">25</text>
<text transform="translate(54.3 540.7) scale(0.9 1)" text-anchor="end">0</text>
<text transform="translate(749.5 540.7) scale(0.9 1)">0</text>
<text transform="translate(54.3 552.9) scale(0.9 1)" text-anchor="end">-25</text>
<text transform="translate(749.5 552.9) scale(0.9 1)">-25</text>
<text transform="translate(54.3 565.0) scale(0.9 1)" text-anchor="end">-50</text>
<text transform="translate(749.5 565.0) scale(0.9 1)">-50</text>
<text transform="translate(54.3 577.2) scale(0.9 1)" text-anchor="end">-75</text>
<text transform="translate(749.5 577.2) scale(0.9 1)">-75</text>
</g>
<g font-weight="bold" font-size="12.3px" fill="#1a1a1a">
<text transform="translate(98.75 582.3) rotate(-90) scale(0.905 1)" text-anchor="end">12/31/20</text>
<text transform="translate(131.50 582.3) rotate(-90) scale(0.905 1)" text-anchor="end">3/30/21</text>
<text transform="translate(163.50 582.3) rotate(-90) scale(0.905 1)" text-anchor="end">6/24/21</text>
<text transform="translate(196.00 582.3) rotate(-90) scale(0.905 1)" text-anchor="end">9/20/21</text>
<text transform="translate(228.00 582.3) rotate(-90) scale(0.905 1)" text-anchor="end">12/14/21</text>
<text transform="translate(260.50 582.3) rotate(-90) scale(0.905 1)" text-anchor="end">3/11/22</text>
<text transform="translate(292.75 582.3) rotate(-90) scale(0.905 1)" text-anchor="end">6/7/22</text>
<text transform="translate(325.25 582.3) rotate(-90) scale(0.905 1)" text-anchor="end">9/1/22</text>
<text transform="translate(357.25 582.3) rotate(-90) scale(0.905 1)" text-anchor="end">11/28/22</text>
<text transform="translate(389.50 582.3) rotate(-90) scale(0.905 1)" text-anchor="end">2/24/23</text>
<text transform="translate(421.50 582.3) rotate(-90) scale(0.905 1)" text-anchor="end">5/22/23</text>
<text transform="translate(453.00 582.3) rotate(-90) scale(0.905 1)" text-anchor="end">8/17/23</text>
<text transform="translate(485.50 582.3) rotate(-90) scale(0.905 1)" text-anchor="end">11/10/23</text>
<text transform="translate(517.75 582.3) rotate(-90) scale(0.905 1)" text-anchor="end">2/8/24</text>
<text transform="translate(550.25 582.3) rotate(-90) scale(0.905 1)" text-anchor="end">5/6/24</text>
<text transform="translate(582.50 582.3) rotate(-90) scale(0.905 1)" text-anchor="end">8/1/24</text>
<text transform="translate(614.75 582.3) rotate(-90) scale(0.905 1)" text-anchor="end">10/25/24</text>
<text transform="translate(647.10 582.3) rotate(-90) scale(0.905 1)" text-anchor="end">1/23/25</text>
<text transform="translate(679.75 582.3) rotate(-90) scale(0.905 1)" text-anchor="end">4/21/25</text>
<text transform="translate(712.00 582.3) rotate(-90) scale(0.905 1)" text-anchor="end">7/16/25</text>
</g>
<text x="562.5" y="641.4" font-size="10.14px" font-weight="bold" fill="#1a1a1a">Copyright © 2025 Thechartstore.com</text>
<polygon points="698.10,521.20 706.56,534.48 709.23,529.90 725.04,539.14 726.96,535.86 711.15,526.62 713.82,522.05" fill="#1414e6"/>
<rect x="0.5" y="0.5" width="799" height="652" fill="none" stroke="#000" stroke-width="1"/>
</svg>
</body></html>
